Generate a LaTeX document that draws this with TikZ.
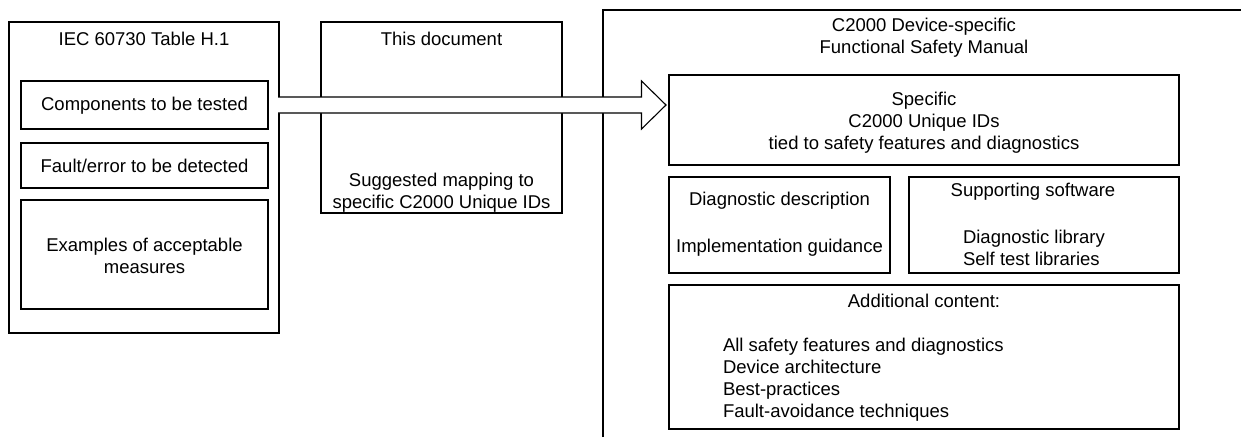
\documentclass[tikz,border=0pt]{standalone}
\usepackage{fontspec}
\setmainfont{Liberation Sans}
\usetikzlibrary{calc}
\begin{document}
\begin{tikzpicture}[x=1pt,y=-1pt,
  box/.style={draw=black, line width=2pt, inner sep=0pt, outer sep=0pt, anchor=north west},
  frameline/.style={draw=black, line width=2pt},
  txt/.style={inner sep=0pt, outer sep=0pt, font=\fontsize{18.5}{22}\selectfont, align=center, text=black},
  ltxt/.style={txt, align=left, anchor=west},
  blockarrow/.style={draw=black, line width=1.1pt, line join=miter}]
\useasboundingbox[fill=white] (0,0) rectangle (1241,437);

% left group
\node[box, minimum width=270pt, minimum height=311pt] (iec) at (9,22) {};
\node[box, minimum width=247pt, minimum height=48pt] (comp) at (21,81) {};
\node[box, minimum width=247pt, minimum height=45pt] (fault) at (21,143) {};
\node[box, minimum width=247pt, minimum height=109pt] (examples) at (21,200) {};

% middle
\node[box, minimum width=241pt, minimum height=191pt] (thisdoc) at (321,22) {};

% right group
\coordinate (rbot) at (603,437);
\coordinate (rtl) at (603,9.5);
\coordinate (rtr) at (1241,9.5);
\draw[frameline] (rbot) -- (rtl) -- (rtr);
\node[box, minimum width=510pt, minimum height=90pt] (specific) at (669,75) {};
\node[box, minimum width=221pt, minimum height=96pt] (diag) at (669,177) {};
\node[box, minimum width=270pt, minimum height=96pt] (supp) at (909,177) {};
\node[box, minimum width=510pt, minimum height=144pt] (addl) at (669,285) {};

% block arrow
\coordinate (a0) at ($(iec.east |- comp.center)+(-1,0)$);
\coordinate (a1) at ($(specific.west |- comp.center)+(-3,0)$);
\coordinate (ah) at ($(a1)+(-24.5,0)$);
\fill[white] ($(a0)+(0,-8)$) -- ($(ah)+(0,-8)$) -- ($(ah)+(0,-24)$) -- (a1)
  -- ($(ah)+(0,24)$) -- ($(ah)+(0,8)$) -- ($(a0)+(0,8)$) -- cycle;
\draw[blockarrow] ($(a0)+(0,-8)$) -- ($(ah)+(0,-8)$) -- ($(ah)+(0,-24)$) -- (a1)
  -- ($(ah)+(0,24)$) -- ($(ah)+(0,8)$) -- ($(a0)+(0,8)$);

% texts
\node[txt] (t-iec) at (144,39) {IEC 60730 Table H.1};
\node[txt] (t-comp) at ($(comp.center)+(0,1)$) {Components to be tested};
\node[txt] (t-fault) at ($(fault.center)+(0,0)$) {Fault/error to be detected};
\node[txt] (t-ex) at (144.5,255.5) {Examples of acceptable\\measures};
\node[txt] (t-this) at (441.5,39) {This document};
\node[txt] (t-sugg) at (441.5,192.5) {Suggested mapping to\\specific C2000 Unique IDs};

\node[txt] (t-fsm) at (924,38) {C2000 Device-specific\\Functional Safety Manual};
\node[txt] (t-spec) at (924,122.5) {Specific\\C2000 Unique IDs\\tied to safety features and diagnostics};
\node[txt] (t-dd) at (779.5,201) {Diagnostic description};
\node[txt] (t-ig) at (779.5,248) {Implementation guidance};
\node[txt] (t-ss) at (1033,192) {Supporting software};
\node[ltxt] (t-lib) at (963,247.5) {Diagnostic library\\Self test libraries};
\node[txt] (t-add) at (924,301) {Additional content:};
\node[ltxt] (t-items) at (723,380) {All safety features and diagnostics\\Device architecture\\Best-practices\\Fault-avoidance techniques};
\end{tikzpicture}
\end{document}
